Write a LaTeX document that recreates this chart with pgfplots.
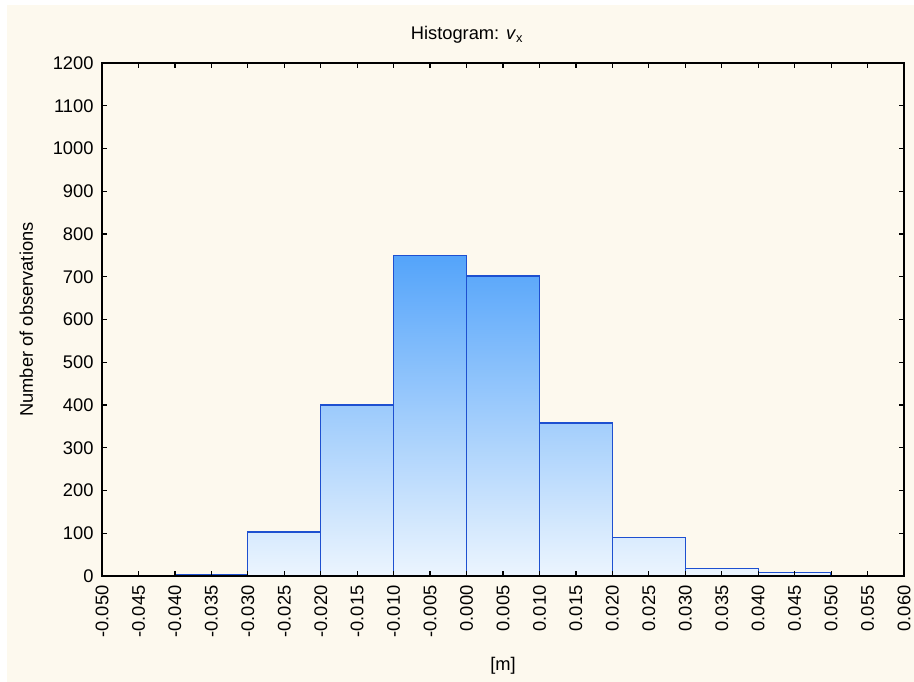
\documentclass[border=0pt]{standalone}
\usepackage{pgfplots}
\pgfplotsset{compat=1.18}
\usepackage{fontspec}
\setmainfont{Liberation Sans}
\definecolor{bgcream}{RGB}{253,249,238}
\definecolor{barline}{RGB}{30,80,208}
\definecolor{bartop}{RGB}{84,164,250}
\definecolor{barbot}{RGB}{236,245,254}
\definecolor{gridc}{RGB}{218,218,218}
\newcommand{\lf}{\fontsize{18.3pt}{22pt}\selectfont}
\begin{document}
\begin{tikzpicture}
\fill[white] (-102pt,-106pt) rectangle (812pt,576pt);
\fill[bgcream] (-95pt,-106pt) rectangle (812pt,571pt);
\begin{axis}[
  at={(0pt,0pt)}, anchor=south west,
  scale only axis, width=802pt, height=513pt,
  xmin=-0.05, xmax=0.06, ymin=0, ymax=1200,
  scaled x ticks=false, scaled y ticks=false,
  axis background/.style={fill=white},
  set layers, axis on top,
  ymajorgrids, major grid style={/pgfplots/on layer=axis background, gridc, line width=1pt},
  axis line style={black, line width=1.6pt},
  tick style={black, line width=1.2pt},
  major tick length=5pt,
  tick align=inside,
  tick pos=both,
  /pgf/number format/assume math mode=true,
  /pgf/number format/1000 sep={},
  ytick={0,100,...,1200},
  xtick={-0.05,-0.045,-0.04,-0.035,-0.03,-0.025,-0.02,-0.015,-0.01,-0.005,0,0.005,0.01,0.015,0.02,0.025,0.03,0.035,0.04,0.045,0.05,0.055,0.06},
  xticklabels={-0.050,-0.045,-0.040,-0.035,-0.030,-0.025,-0.020,-0.015,-0.010,-0.005,0.000,0.005,0.010,0.015,0.020,0.025,0.030,0.035,0.040,0.045,0.050,0.055,0.060},
  xticklabel style={font=\lf, rotate=90, anchor=east},
  yticklabel style={font=\lf},
  xticklabel shift=6pt, yticklabel shift=5pt,
  title={Histogram: \textit{v}\textsubscript{x}},
  title style={font=\lf, at={(axis description cs:0.455,1)}, anchor=base, yshift=17pt},
  xlabel={[m]},
  xlabel style={font=\lf, at={(axis description cs:0.5,0)}, anchor=base, yshift=-95pt},
  ylabel={Number of observations},
  ylabel style={font=\lf, at={([xshift=-69pt]axis description cs:0,0.5)}, anchor=base, rotate=0},
]
\addplot[ybar interval, draw=barline, line width=1.3pt, fill=barbot] coordinates {(-0.05,1) (-0.04,1)};
\addplot[ybar interval, draw=barline, line width=1.3pt, fill=barbot] coordinates {(-0.04,2) (-0.03,2)};
\addplot[ybar interval, draw=barline, line width=1.3pt, top color=bartop!14!barbot, bottom color=barbot] coordinates {(-0.03,103) (-0.02,103)};
\addplot[ybar interval, draw=barline, line width=1.3pt, top color=bartop!53!barbot, bottom color=barbot] coordinates {(-0.02,400) (-0.01,400)};
\addplot[ybar interval, draw=barline, line width=1.3pt, top color=bartop!100!barbot, bottom color=barbot] coordinates {(-0.01,749) (0,749)};
\addplot[ybar interval, draw=barline, line width=1.3pt, top color=bartop!94!barbot, bottom color=barbot] coordinates {(0,702) (0.01,702)};
\addplot[ybar interval, draw=barline, line width=1.3pt, top color=bartop!48!barbot, bottom color=barbot] coordinates {(0.01,358) (0.02,358)};
\addplot[ybar interval, draw=barline, line width=1.3pt, top color=bartop!12!barbot, bottom color=barbot] coordinates {(0.02,90) (0.03,90)};
\addplot[ybar interval, draw=barline, line width=1.3pt, top color=bartop!3!barbot, bottom color=barbot] coordinates {(0.03,18) (0.04,18)};
\addplot[ybar interval, draw=barline, line width=1.3pt, fill=barbot] coordinates {(0.04,8) (0.05,8)};
\end{axis}
\pgfresetboundingbox
\useasboundingbox (-102pt,-106pt) rectangle (812pt,576pt);
\end{tikzpicture}
\end{document}
